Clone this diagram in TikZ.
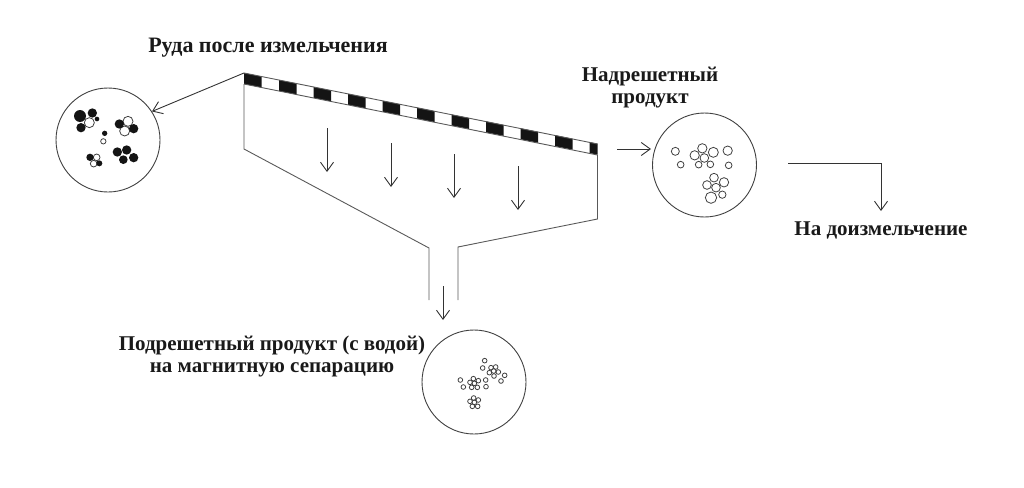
\documentclass[tikz,border=0pt]{standalone}
\usepackage{fontspec}
\setmainfont{Liberation Serif}
\usetikzlibrary{arrows.meta}
\tikzset{
 x=1pt,y=-1pt,
 lbl/.style={font=\fontsize{21}{22}\selectfont\bfseries,align=center,inner sep=0pt,text=black!90},
 bigcirc/.style={circle,draw=black!75,line width=0.9pt,minimum size=104pt,inner sep=0pt},
 wall/.style={draw=black!65,line width=0.9pt},
 arr/.style={draw=black!80,line width=0.9pt,-{Straight Barb[length=9pt,width=13pt,line width=0.9pt]}},
 oc/.style={draw=black!75,line width=0.8pt,fill=white},
 bc/.style={fill=black!92},
}
\begin{document}
\begin{tikzpicture}
\useasboundingbox (0,0) rectangle (1024,487);
% labels
\node[lbl,font=\fontsize{22}{22}\selectfont\bfseries] (ore) at (268,48) {Руда после измельчения};
\node[lbl] (over) at (650,88) {Надрешетный\\продукт};
\node[lbl] (regrind) at (881,230) {На доизмельчение};
\node[lbl] (under) at (272,356) {Подрешетный продукт (с водой)\\на магнитную сепарацию};
% discs
\node[bigcirc] (disc1) at (108,140) {};
\node[bigcirc] (disc2) at (704.5,165) {};
\node[bigcirc] (disc3) at (474,382) {};
% particles
\begin{scope}[shift={(40,80)}]
 \foreach \a/\b/\r in {148/128/15,264/124/15,254/153/15,190/184/8,170/232/10,161/251/10}
  \draw[oc] (\a/3,\b/3) circle[radius=\r/3];
 \foreach \a/\b/\r in {120/108/18,157/99/14,123/143/14,171/117/7,238/132/14,281/146/14,194/160/8,150/232/11,178/250/9,232/216/14,260/210/14,250/239/13,281/233/14}
  \fill[bc] (\a/3,\b/3) circle[radius=\r/3];
\end{scope}
\begin{scope}[shift={(645,125)}]
 \foreach \a/\b/\r in {91/79/12,107/119/10,172/70/14,205/82/15,149/91/14,161/119/10,196/118/10,178/99/13,248/77/14,251/121/10,207/158/13,237/172/14,186/180/13,198/218/17,232/209/11,213/188/13}
  \draw[oc,fill=none] (\a/3,\b/3) circle[radius=\r/3];
\end{scope}
\begin{scope}[shift={(415,340)}]
 \foreach \a/\b in {209/62,203/84,228/83,242/81,223/98,236/93,250/96,237/108,269/106,258/123,136/120,145/141,165/127,175/116,190/122,178/130,170/142,187/142,212/120,213/140,176/174,165/184,190/180,178/187,172/199,188/199}
  \draw[oc,fill=none] (\a/3,\b/3) circle[radius=7/3];
\end{scope}
% screen
\coordinate (stl) at (244,73);
\coordinate (str) at (597.5,144);
\coordinate (sbl) at (244,84);
\coordinate (sbr) at (597.5,155);
\fill[black!92] (244,73) -- (261.5,76.5) -- (261.5,87.5) -- (244,84) -- cycle;
\foreach \s in {279,313.5,348,382.5,417,451.5,486,520.5,555}
 \fill[black!92] (\s,{73+(\s-244)*0.2}) -- (\s+17.5,{73+(\s+17.5-244)*0.2}) -- (\s+17.5,{84+(\s+17.5-244)*0.2}) -- (\s,{84+(\s-244)*0.2}) -- cycle;
\fill[black!92] (589.5,142.1) -- (597.5,143.7) -- (597.5,154.7) -- (589.5,153.1) -- cycle;
\draw[wall] (stl) -- (str);
\draw[wall] (sbl) -- (sbr);
% funnel
\coordinate (fl1) at (244,149);
\coordinate (fl2) at (429,248);
\coordinate (fl3) at (429,300);
\coordinate (fr1) at (597.5,219);
\coordinate (fr2) at (458,247);
\coordinate (fr3) at (458,300);
\draw[wall] (sbl) -- (fl1) -- (fl2) -- (fl3);
\draw[wall] (sbr) -- (fr1) -- (fr2) -- (fr3);
% arrows
\foreach \n/\x/\ya/\yb in {fa/327/128/172,fb/391/143/187,fc/454/154/198,fd/518/166/210}{
 \coordinate (\n top) at (\x,\ya);
 \coordinate (\n bot) at (\x,\yb);
 \draw[arr] (\n top) -- (\n bot);
}
\coordinate (e1) at (443,286);
\coordinate (e2) at (443,320);
\draw[arr] (e1) -- (e2);
\draw[arr] (stl) -- (disc1.33);
\coordinate (o1) at (617,149);
\coordinate (o2) at (651,149);
\draw[arr] (o1) -- (o2);
\coordinate (r1) at (788,163);
\coordinate (r2) at (881,163);
\coordinate (r3) at (881,211);
\draw[arr] (r1) -- (r2) -- (r3);
\end{tikzpicture}
\end{document}
